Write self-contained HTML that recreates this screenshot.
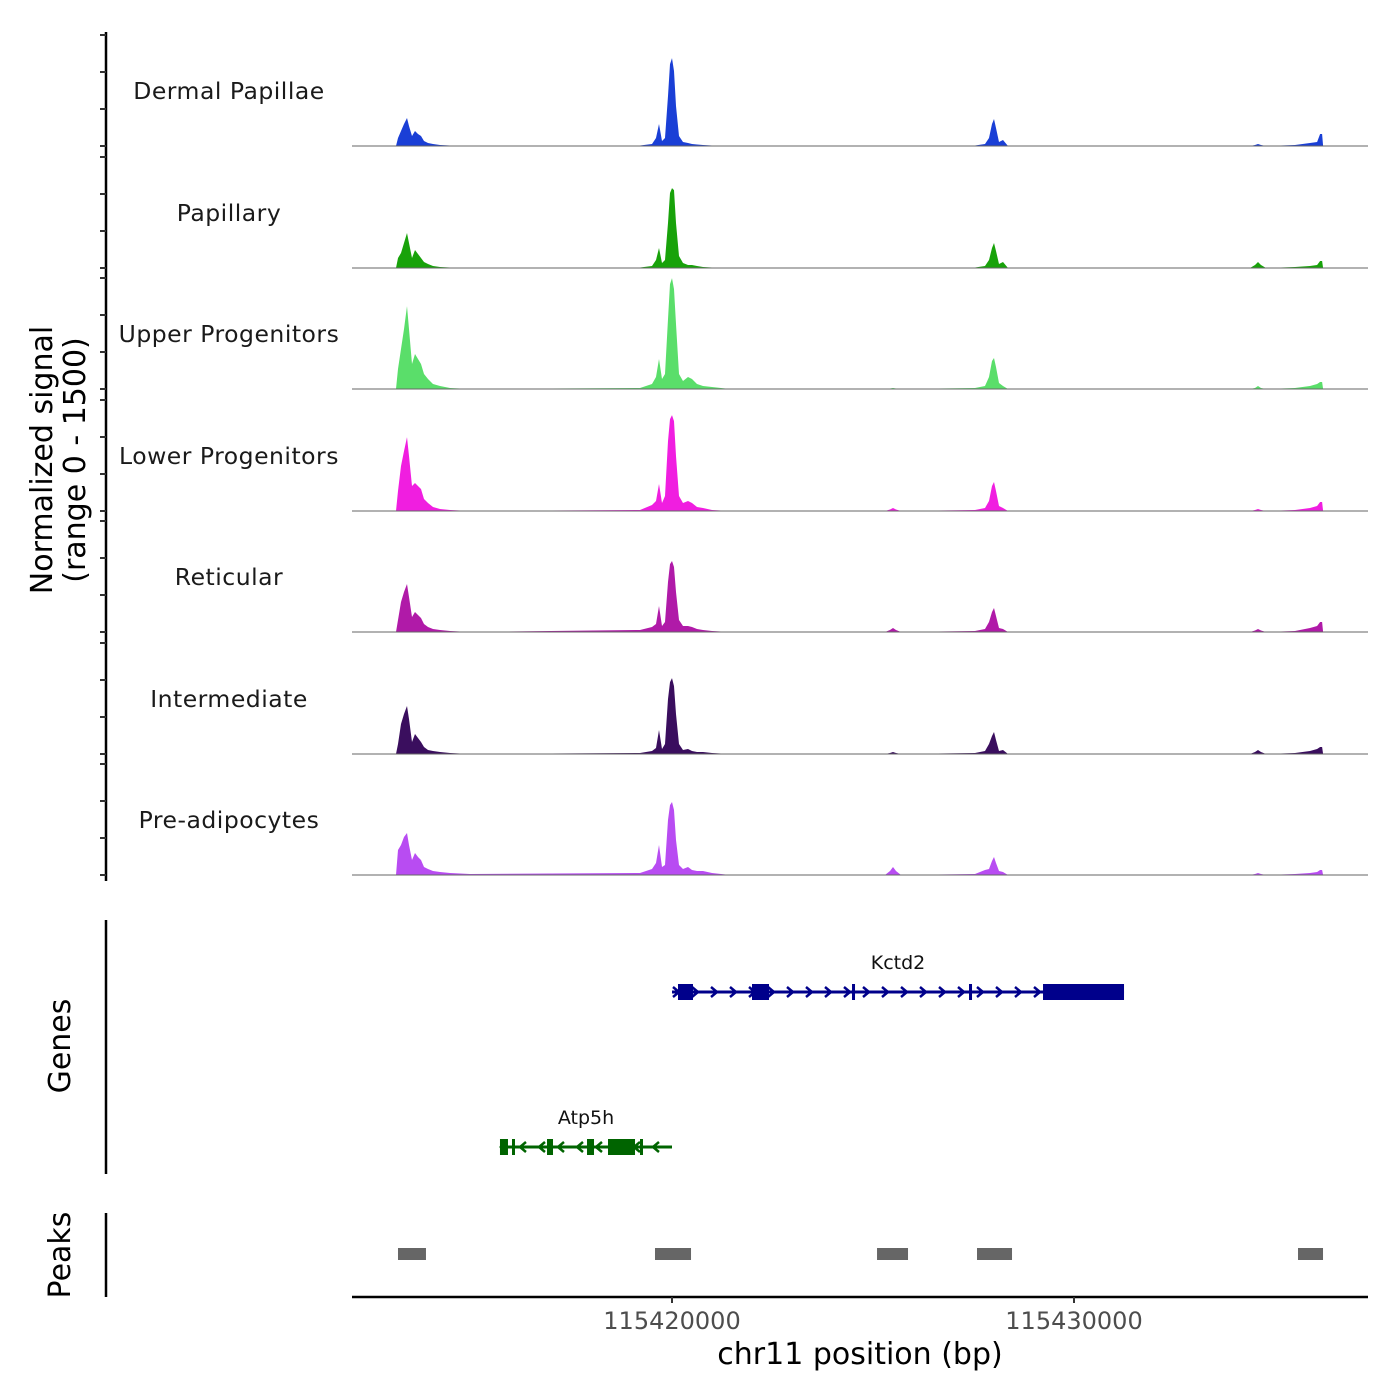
<!DOCTYPE html>
<html><head><meta charset="utf-8"><style>
body{margin:0;background:#fff;}
svg{display:block;font-family:"DejaVu Sans","Liberation Sans",sans-serif;}
</style></head><body>
<svg id="c" width="1400" height="1400" viewBox="0 0 1400 1400"></svg>
<script>
const trackNames=["Dermal Papillae","Papillary","Upper Progenitors","Lower Progenitors","Reticular","Intermediate","Pre-adipocytes"];
const trackColors=["#1a3fd6","#18a20a","#5ade6a","#f01ee0","#b01aa8","#3a0e5e","#b84cf2"];
const positions=[115413134,115413184,115413259,115413333,115413407,115413457,115413532,115413607,115413682,115413756,115413831,115413930,115414055,115414229,115414478,115414975,
115419204,115419502,115419602,115419677,115419751,115419826,115419900,115419950,115420000,115420050,115420100,115420174,115420274,115420398,115420498,115420622,115420771,115420995,115421443,
115425299,115425423,115425498,115425572,115425697,
115427537,115427786,115427886,115427960,115428010,115428060,115428134,115428234,115428358,
115434378,115434502,115434577,115434652,115434776,
115435498,115435871,115436046,115436121,115436171,115436196];
const sigDermalPapillae=[0,108,203,297,378,270,135,203,162,135,68,41,27,14,7,0,7,27,108,297,68,108,675,1107,1188,1013,540,135,54,41,27,20,14,7,0,0,4,7,4,0,7,27,108,297,365,243,54,81,0,0,14,27,14,0,14,41,54,162,162,0];
const sigPapillary=[0,135,203,338,473,338,135,243,189,135,81,54,27,14,7,0,7,27,108,270,68,108,608,1013,1080,1053,608,162,68,41,41,27,14,7,0,0,4,7,4,0,7,27,108,270,338,230,54,81,0,0,41,81,41,0,14,27,41,95,95,0];
const sigUpperProgenitors=[0,270,540,810,1120,810,338,473,405,338,203,135,68,41,14,0,14,68,162,405,135,203,945,1418,1499,1350,878,203,108,162,135,68,41,27,0,0,7,14,7,0,14,41,162,378,419,297,81,41,0,0,14,41,14,0,14,41,68,95,95,0];
const sigLowerProgenitors=[0,270,608,810,999,743,338,378,338,297,162,108,54,27,14,0,14,81,135,365,108,203,945,1242,1296,1215,743,203,108,135,108,54,41,14,0,0,20,41,20,0,14,41,135,338,392,270,68,41,0,0,14,27,14,0,14,41,68,122,122,0];
const sigReticular=[0,162,405,540,648,473,203,270,230,189,108,68,41,27,14,0,27,68,108,351,81,135,675,918,959,878,540,162,81,81,68,41,27,14,0,0,27,54,27,0,14,41,135,270,324,216,54,41,0,0,20,41,20,0,14,54,81,135,135,0];
const sigIntermediate=[0,135,405,540,648,473,162,270,216,162,95,54,41,27,14,0,14,41,81,324,68,135,743,972,1026,918,540,135,54,68,41,27,27,14,0,0,14,27,14,0,14,41,135,243,297,189,41,54,0,0,27,54,27,0,14,41,68,95,95,0];
const sigPreAdipocytes=[0,338,405,513,567,405,203,297,243,203,108,81,54,41,27,14,27,81,162,405,108,135,743,945,986,878,473,135,81,108,68,54,54,27,0,0,54,108,54,0,14,68,81,189,243,162,54,41,0,0,14,27,14,0,14,27,41,68,68,0];
const signals=[sigDermalPapillae,sigPapillary,sigUpperProgenitors,sigLowerProgenitors,sigReticular,sigIntermediate,sigPreAdipocytes];
const yTicks=[0,500,1000,1500];
const xTicks=[115420000,115430000];
const kctd2Span=[115420000,115431244];
const kctd2Exons=[[115420149,115420522],[115421990,115422413],[115424478,115424552],[115427388,115427463],[115429229,115431244]];
const atp5hSpan=[115415721,115420000];
const atp5hExons=[[115415721,115415920],[115416020,115416070],[115416891,115417040],[115417886,115418060],[115418408,115419080],[115419204,115419254]];
const peakStarts=[115413184,115419577,115425100,115427587,115435572];
const peakEnds=[115413880,115420473,115425871,115428458,115436194];

const svg=document.getElementById('c');
const NS='http://www.w3.org/2000/svg';
function el(t,a,p){const e=document.createElementNS(NS,t);for(const k in a)e.setAttribute(k,a[k]);(p||svg).appendChild(e);return e;}
const X0=352,X1=1368,D0=115412040,D1=115437313;
const xs=v=>X0+(v-D0)/(D1-D0)*(X1-X0);
const base=[146,268,389,511,632,754,875];
const ys=(v,b)=>b-v/1500*111;

let ax=el('line',{x1:106,y1:32,x2:106,y2:881,stroke:'#000','stroke-width':2.5});

trackNames.forEach((nm,i)=>{
  const b=base[i];
  yTicks.forEach(t=>{const tk=el('line',{x1:100,x2:106,y1:ys(t,b),y2:ys(t,b),stroke:'#333','stroke-width':2});
    });
  let d='M'+xs(positions[0])+','+b;
  positions.forEach((p,j)=>{d+=' L'+xs(p).toFixed(1)+','+ys(signals[i][j],b).toFixed(1);});
  d+=' L'+xs(positions[positions.length-1])+','+b+' Z';
  const a=el('path',{d:d,fill:trackColors[i]});
  
  
  const bl=el('line',{x1:X0,x2:X1,y1:b,y2:b,stroke:'#666','stroke-width':1});
  
  const lb=el('text',{x:229,y:b-47,'text-anchor':'middle','font-size':23.5,fill:'#1a1a1a','letter-spacing':'0.5'});
  lb.textContent=nm;
  
});
const yt=el('text',{transform:'translate(52,460) rotate(-90)','text-anchor':'middle','font-size':30,fill:'#000'});
yt.textContent='Normalized signal';
const yt2=el('text',{transform:'translate(85,460) rotate(-90)','text-anchor':'middle','font-size':30,fill:'#000'});
yt2.textContent='(range 0 - 1500)';

const ga=el('line',{x1:106,y1:920,x2:106,y2:1174,stroke:'#000','stroke-width':2.5});

const gt=el('text',{transform:'translate(70,1046) rotate(-90)','text-anchor':'middle','font-size':30});
gt.textContent='Genes';
function gene(name,span,exons,y,col,dir){
  const g=el('g',{});
  el('line',{x1:xs(span[0]),x2:xs(span[1]),y1:y,y2:y,stroke:col,'stroke-width':3},g);
  for(let x=xs(span[0])+4;x<xs(span[1])-4;x+=19){
    const ch=dir>0?`M${x-3},${y-5} L${x+3},${y} L${x-3},${y+5}`:`M${x+3},${y-5} L${x-3},${y} L${x+3},${y+5}`;
    el('path',{d:ch,stroke:col,'stroke-width':2.5,fill:'none'},g);
  }
  exons.forEach(e=>{const w=Math.max(3,xs(e[1])-xs(e[0]));
    el('rect',{x:xs(e[0]),y:y-8,width:w,height:16,fill:col},g);});
  const t=el('text',{x:(xs(span[0])+xs(span[1]))/2,y:y-23,'text-anchor':'middle','font-size':19,fill:'#111'},g);t.textContent=name;
  
}
gene('Kctd2',kctd2Span,kctd2Exons,992,'#00008b',1);
gene('Atp5h',atp5hSpan,atp5hExons,1147,'#006400',-1);

const pa=el('line',{x1:106,y1:1213,x2:106,y2:1297,stroke:'#000','stroke-width':2.5});

const pt=el('text',{transform:'translate(70,1255) rotate(-90)','text-anchor':'middle','font-size':30});
pt.textContent='Peaks';
peakStarts.forEach((s,i)=>{const r=el('rect',{x:xs(s),y:1248,width:xs(peakEnds[i])-xs(s),height:12,fill:'#666'});
  });

const xa=el('line',{x1:X0,x2:X1,y1:1297,y2:1297,stroke:'#000','stroke-width':2.5});

xTicks.forEach(t=>{const tk=el('line',{x1:xs(t),x2:xs(t),y1:1297,y2:1303,stroke:'#333','stroke-width':2});
  
  const tl=el('text',{x:xs(t),y:1329,'text-anchor':'middle','font-size':24,fill:'#4d4d4d'});tl.textContent=t;
  });
const xt=el('text',{x:860,y:1364,'text-anchor':'middle','font-size':30,fill:'#000'});
xt.textContent='chr11 position (bp)';
</script>
</body></html>
